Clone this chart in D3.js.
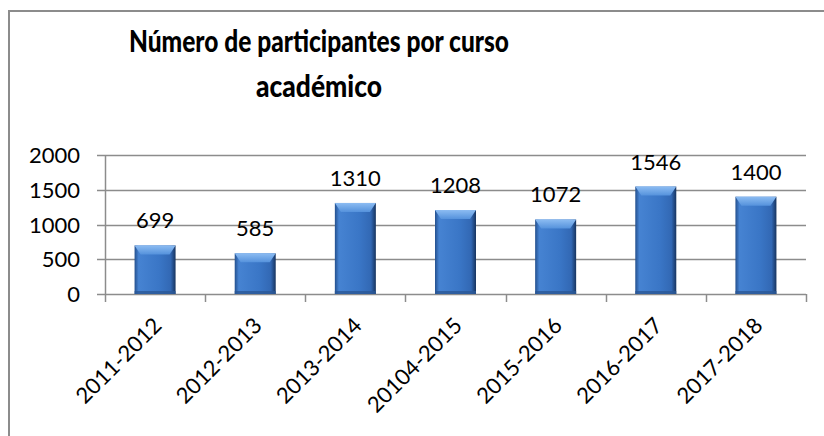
<!DOCTYPE html>
<html>
<head>
<meta charset="utf-8">
<script src="https://cdn.jsdelivr.net/npm/d3@7"></script>
<style>
  body { margin: 0; background: #fff; }
  text { font-family: Lato, "Open Sans", sans-serif; fill: #000; }
</style>
</head>
<body>
<svg width="824" height="436"></svg>
<script>
var cursos = ["2011-2012", "2012-2013", "2013-2014", "20104-2015", "2015-2016", "2016-2017", "2017-2018"];
var participantes = [699, 585, 1310, 1208, 1072, 1546, 1400];
var yTicks = [0, 500, 1000, 1500, 2000];
var tituloLineas = ["Número de participantes por curso", "académico"];
var tituloAnchos = [380, 126];

var svg = d3.select("svg");

// chart frame (only left and top visible)
svg.append("path")
    .attr("d", "M9,436V11H824")
    .attr("fill", "none")
    .attr("stroke", "#8c8c8c")
    .attr("stroke-width", 2);

var x = d3.scaleBand()
    .domain(cursos)
    .range([105, 806])
    .paddingInner(0)
    .paddingOuter(0);

var y = d3.scaleLinear()
    .domain([0, 2000])
    .range([294, 155]);

// gradients for the bevelled bars
var defs = svg.append("defs");
var g1 = defs.append("linearGradient").attr("id", "body").attr("x1", 0).attr("x2", 1).attr("y1", 0).attr("y2", 0);
g1.append("stop").attr("offset", "0%").attr("stop-color", "#24508e");
g1.append("stop").attr("offset", "10%").attr("stop-color", "#4683d2");
g1.append("stop").attr("offset", "60%").attr("stop-color", "#3a76c6");
g1.append("stop").attr("offset", "88%").attr("stop-color", "#3268b4");
g1.append("stop").attr("offset", "100%").attr("stop-color", "#17345f");
var g2 = defs.append("linearGradient").attr("id", "top").attr("x1", 0).attr("x2", 0).attr("y1", 0).attr("y2", 1);
g2.append("stop").attr("offset", "0%").attr("stop-color", "#8cbcf2");
g2.append("stop").attr("offset", "100%").attr("stop-color", "#5592dc");

// gridlines
svg.append("g")
    .selectAll("line")
    .data(yTicks)
    .enter().append("line")
    .attr("x1", 97)
    .attr("x2", 806)
    .attr("y1", function(d) { return Math.round(y(d)) + 0.5; })
    .attr("y2", function(d) { return Math.round(y(d)) + 0.5; })
    .attr("stroke", "#8c8c8c")
    .attr("stroke-width", 1.5);

// y axis line
svg.append("line")
    .attr("x1", 105.5).attr("x2", 105.5)
    .attr("y1", 155).attr("y2", 294)
    .attr("stroke", "#8c8c8c")
    .attr("stroke-width", 1.5);

// x axis ticks at band boundaries
var bounds = cursos.map(function(c) { return x(c); }).concat([806]);
svg.append("g")
    .selectAll("line")
    .data(bounds)
    .enter().append("line")
    .attr("x1", function(d) { return Math.round(d) + 0.5; })
    .attr("x2", function(d) { return Math.round(d) + 0.5; })
    .attr("y1", 294)
    .attr("y2", 302)
    .attr("stroke", "#8c8c8c")
    .attr("stroke-width", 1.5);

// y tick labels
svg.append("g")
    .selectAll("text")
    .data(yTicks)
    .enter().append("text")
    .attr("x", 80)
    .attr("y", function(d) { return y(d) + 8; })
    .attr("text-anchor", "end")
    .style("font-size", "22px")
    .text(function(d) { return d; });

// bars
var bw = 41;
var bar = svg.append("g")
    .selectAll("g")
    .data(participantes)
    .enter().append("g")
    .attr("transform", function(d, i) {
        return "translate(" + (x(cursos[i]) + x.bandwidth() / 2 - bw / 2) + "," + y(d) + ")";
    });

bar.append("rect")
    .attr("width", bw)
    .attr("height", function(d) { return y(0) - y(d); })
    .attr("fill", "url(#body)");

bar.append("path")
    .attr("d", "M0,0H" + bw + "L" + (bw - 6) + ",9H6Z")
    .attr("fill", "url(#top)");

bar.append("rect")
    .attr("y", function(d) { return y(0) - y(d) - 3; })
    .attr("width", bw)
    .attr("height", 3)
    .attr("fill", "#2a5796")
    .attr("opacity", 0.8);

// value labels
svg.append("g")
    .selectAll("text")
    .data(participantes)
    .enter().append("text")
    .attr("x", function(d, i) { return x(cursos[i]) + x.bandwidth() / 2; })
    .attr("y", function(d) { return y(d) - 17; })
    .attr("text-anchor", "middle")
    .style("font-size", "22px")
    .text(function(d) { return d; });

// rotated category labels
svg.append("g")
    .selectAll("text")
    .data(cursos)
    .enter().append("text")
    .attr("transform", function(d) {
        return "translate(" + (x(d) + x.bandwidth() / 2 + 8) + ",327) rotate(-45)";
    })
    .attr("text-anchor", "end")
    .style("font-size", "22px")
    .text(function(d) { return d; });

// title
svg.append("g")
    .selectAll("text")
    .data(tituloLineas)
    .enter().append("text")
    .attr("x", 319)
    .attr("y", function(d, i) { return 52 + i * 45; })
    .attr("text-anchor", "middle")
    .attr("textLength", function(d, i) { return tituloAnchos[i]; })
    .attr("lengthAdjust", "spacingAndGlyphs")
    .style("font-size", "31px")
    .style("font-weight", "900")
    .text(function(d) { return d; });
</script>
</body>
</html>
